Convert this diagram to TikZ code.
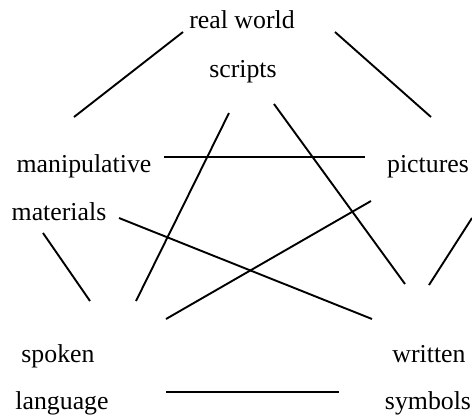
\documentclass[tikz,border=0pt]{standalone}
\usepackage{fontspec}
\setmainfont{Liberation Serif}
\usetikzlibrary{positioning}

\begin{document}
\begin{tikzpicture}[
  x=1pt, y=-1pt,
  word/.style={anchor=base, inner sep=0pt, font=\fontsize{25.8}{31}\selectfont},
  link/.style={line width=1.9pt}
]
\useasboundingbox (0,0) rectangle (472,416);
% labels
\node[word] (realworld) at (242,28) {real world};
\node[word] (scripts) at (243,77) {scripts};
\node[word] (manip) at (84,172) {manipulative};
\node[word] (materials) at (59,220) {materials};
\node[word] (pictures) at (428,172) {pictures};
\node[word] (spoken) at (58,362) {spoken};
\node[word] (language) at (62,409) {language};
\node[word] (written) at (429,362) {written};
\node[word] (symbols) at (428,409) {symbols};
% line ends
\coordinate (rwl) at (183,32);   \coordinate (mal) at (74,117);
\coordinate (rwr) at (335,32);   \coordinate (pir) at (431,117);
\coordinate (mah) at (164,157);  \coordinate (pih) at (365,157);
\coordinate (scl) at (229,113);  \coordinate (spu) at (136,301);
\coordinate (scr) at (274,104);  \coordinate (wru) at (405,284);
\coordinate (mtx) at (119,218);  \coordinate (wrx) at (372,319);
\coordinate (pix) at (371,201);  \coordinate (spx) at (166,319);
\coordinate (mtd) at (43,233);   \coordinate (spd) at (90,301);
\coordinate (pid) at (472,218);  \coordinate (wrd) at (429,285);
\coordinate (sph) at (166,392);  \coordinate (wrh) at (339,392);
% links
\draw[link] (mal) -- (rwl);
\draw[link] (rwr) -- (pir);
\draw[link] (mah) -- (pih);
\draw[link] (scl) -- (spu);
\draw[link] (scr) -- (wru);
\draw[link] (mtx) -- (wrx);
\draw[link] (pix) -- (spx);
\draw[link] (mtd) -- (spd);
\draw[link] (pid) -- (wrd);
\draw[link] (sph) -- (wrh);
\end{tikzpicture}
\end{document}
